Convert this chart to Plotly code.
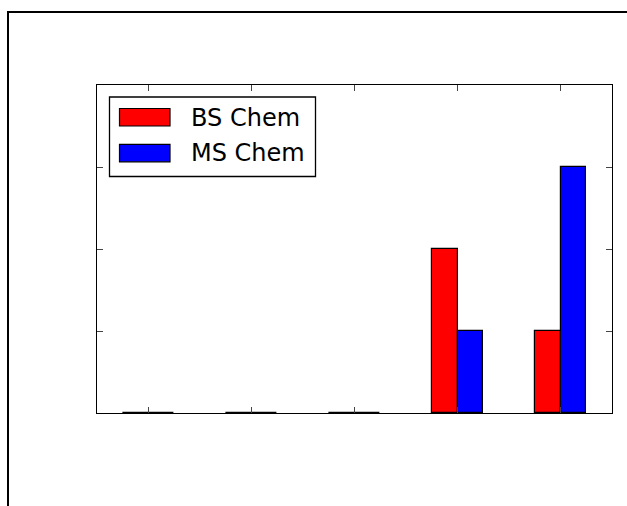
import plotly.graph_objects as go

# Data
groups = [0, 1, 2, 3, 4]
bs_chem = [0, 0, 0, 2, 1]
ms_chem = [0, 0, 0, 1, 3]
series_names = ["BS Chem", "MS Chem"]
series_colors = ["#ff0000", "#0000ff"]

W, H = 627, 506
ML, MR, MT, MB = 97, 15, 85, 93
PW, PH = W - ML - MR, H - MT - MB


def px(x):
    return (x - ML) / PW


def py(y):
    return (H - MB - y) / PH


fig = go.Figure()
fig.add_trace(go.Bar(x=groups, y=bs_chem, width=0.25, offset=-0.25,
                     marker=dict(color=series_colors[0], line=dict(color="black", width=1.2)),
                     name=series_names[0], showlegend=False))
fig.add_trace(go.Bar(x=groups, y=ms_chem, width=0.25, offset=0,
                     marker=dict(color=series_colors[1], line=dict(color="black", width=1.2)),
                     name=series_names[1], showlegend=False))

axis_common = dict(showline=True, linecolor="black", linewidth=1, mirror="allticks",
                   ticks="inside", ticklen=6, tickwidth=1, tickcolor="#444",
                   showticklabels=False, showgrid=False, zeroline=False)
fig.update_xaxes(range=[-0.5, 4.5], tickvals=groups, **axis_common)
fig.update_yaxes(range=[0, 4], tickvals=[0, 1, 2, 3, 4], **axis_common)

shapes = []
# outer frame lines (figure border fragment)
shapes.append(dict(type="line", xref="paper", yref="paper", x0=px(8), x1=px(628),
                   y0=py(12), y1=py(12), line=dict(color="black", width=2)))
shapes.append(dict(type="line", xref="paper", yref="paper", x0=px(8), x1=px(8),
                   y0=py(11), y1=py(507), line=dict(color="black", width=2)))
# legend box
shapes.append(dict(type="rect", xref="paper", yref="paper", x0=px(109.5), x1=px(315.5),
                   y0=py(97), y1=py(176.5), line=dict(color="black", width=1.3),
                   fillcolor="white", layer="above"))
annotations = []
for i, (name, col) in enumerate(zip(series_names, series_colors)):
    top = 108.5 + i * 35.8
    shapes.append(dict(type="rect", xref="paper", yref="paper", x0=px(119.5), x1=px(170),
                       y0=py(top), y1=py(top + 17.5), line=dict(color="black", width=1.2),
                       fillcolor=col, layer="above"))
    annotations.append(dict(xref="paper", yref="paper", x=px(188.5), y=py(top + 9),
                            xanchor="left", yanchor="middle", text=name, showarrow=False,
                            font=dict(family="DejaVu Sans", size=24, color="black")))

fig.update_layout(width=W, height=H, margin=dict(l=ML, r=MR, t=MT, b=MB),
                  paper_bgcolor="white", plot_bgcolor="white",
                  shapes=shapes, annotations=annotations, showlegend=False,
                  bargap=0)
fig.write_html("out.html", config={"displayModeBar": False},
               post_script="document.body.style.margin='0';document.body.style.overflow='hidden';")
